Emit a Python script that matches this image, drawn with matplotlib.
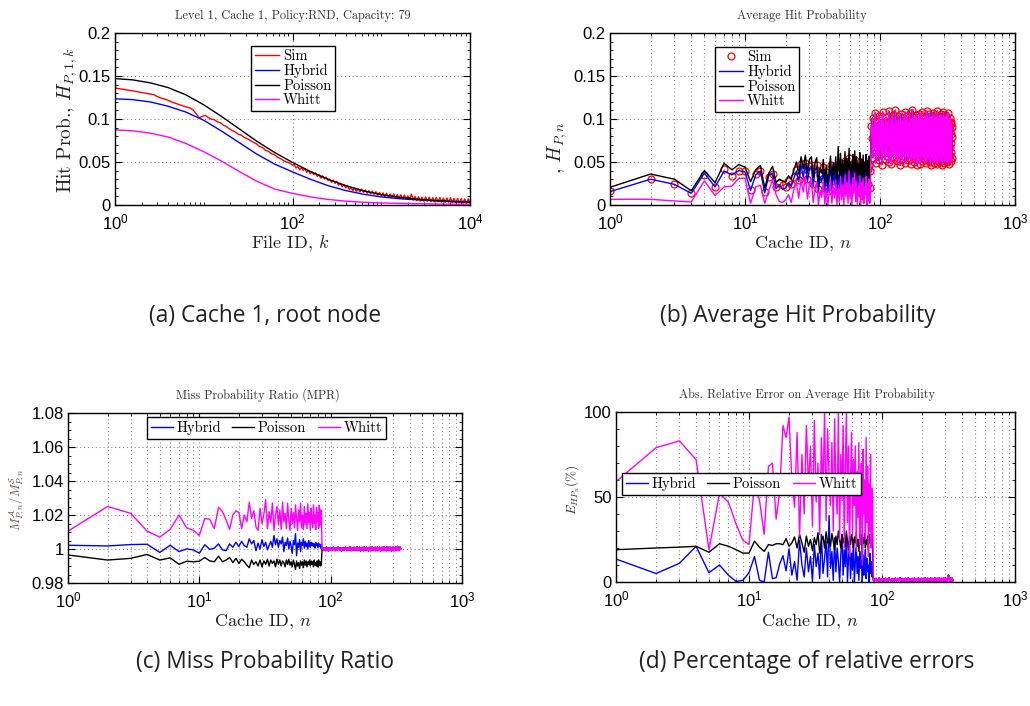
import numpy as np
import matplotlib
matplotlib.use("Agg")
import matplotlib.pyplot as plt
from matplotlib.ticker import FixedLocator, FuncFormatter, MultipleLocator, NullFormatter

plt.rcParams['font.family'] = ['Liberation Sans', 'DejaVu Sans']
plt.rcParams['mathtext.fontset'] = 'cm'
plt.rcParams['axes.unicode_minus'] = False

# ---------------- data ----------------
# (a) hit probability per file, cache 1
file_id_grid = [1, 1.585, 2.512, 3.981, 6.31, 10, 15.85, 25.12, 39.81, 63.1, 100,
                158.5, 251.2, 398.1, 631, 1000, 1585, 2512, 3981, 6310, 10000]
a_hybrid = [0.1235, 0.1225, 0.1198, 0.1148, 0.1080, 0.0985, 0.0860, 0.0725, 0.0590, 0.0475, 0.0385,
            0.0300, 0.0225, 0.0168, 0.0125, 0.0094, 0.0074, 0.0060, 0.0049, 0.0041, 0.0035]
a_poisson = [0.1470, 0.1455, 0.1420, 0.1365, 0.1280, 0.1165, 0.1030, 0.0885, 0.0740, 0.0610, 0.0495,
             0.0390, 0.0300, 0.0225, 0.0165, 0.0120, 0.0090, 0.0068, 0.0052, 0.0040, 0.0031]
a_whitt = [0.0875, 0.0862, 0.0835, 0.0790, 0.0715, 0.0620, 0.0510, 0.0390, 0.0275, 0.0185, 0.0135,
           0.0095, 0.0065, 0.0045, 0.0032, 0.0024, 0.0019, 0.0015, 0.0012, 0.0010, 0.0009]
# simulated curve, sampled log-uniformly: files 1..100 (60 samples), 100..10^4 (100 samples)
a_sim_head = [0.1360, 0.1355, 0.1350, 0.1344, 0.1338, 0.1332, 0.1326, 0.1320, 0.1314, 0.1308,
              0.1302, 0.1295, 0.1288, 0.1282, 0.1262, 0.1248, 0.1236, 0.1226, 0.1212, 0.1196,
              0.1183, 0.1172, 0.1160, 0.1148, 0.1136, 0.1128, 0.1104, 0.1060, 0.1012, 0.1030,
              0.1042, 0.1018, 0.0998, 0.0992, 0.0968, 0.0958, 0.0930, 0.0912, 0.0886, 0.0866,
              0.0848, 0.0822, 0.0812, 0.0786, 0.0770, 0.0750, 0.0728, 0.0712, 0.0680, 0.0670,
              0.0636, 0.0624, 0.0596, 0.0586, 0.0556, 0.0540, 0.0516, 0.0500, 0.0490, 0.0464]
a_sim_tail = [0.0468, 0.0430, 0.0446, 0.0410, 0.0434, 0.0404, 0.0423, 0.0381, 0.0397, 0.0363,
              0.0387, 0.0354, 0.0374, 0.0332, 0.0352, 0.0312, 0.0339, 0.0303, 0.0324, 0.0283,
              0.0302, 0.0263, 0.0288, 0.0252, 0.0275, 0.0231, 0.0253, 0.0212, 0.0238, 0.0201,
              0.0223, 0.0181, 0.0203, 0.0167, 0.0197, 0.0158, 0.0187, 0.0153, 0.0184, 0.0147,
              0.0175, 0.0136, 0.0167, 0.0130, 0.0162, 0.0124, 0.0154, 0.0113, 0.0146, 0.0107,
              0.0141, 0.0096, 0.0137, 0.0090, 0.0130, 0.0086, 0.0130, 0.0082, 0.0121, 0.0075,
              0.0118, 0.0072, 0.0115, 0.0066, 0.0106, 0.0062, 0.0126, 0.0058, 0.0099, 0.0051,
              0.0096, 0.0045, 0.0092, 0.0044, 0.0094, 0.0044, 0.0091, 0.0038, 0.0087, 0.0038,
              0.0088, 0.0037, 0.0087, 0.0034, 0.0081, 0.0031, 0.0081, 0.0031, 0.0084, 0.0028,
              0.0076, 0.0025, 0.0075, 0.0026, 0.0074, 0.0023, 0.0071, 0.0020, 0.0071, 0.0025]

# (b) average hit probability per cache: caches 1..85 (inner), 86..341 (leaves)
b_sim = [0.0166, 0.0306, 0.0248, 0.0136, 0.0350, 0.0210, 0.0415, 0.0340, 0.0395, 0.0390,
         0.0180, 0.0360, 0.0390, 0.0150, 0.0330, 0.0365, 0.0210, 0.0260, 0.0230, 0.0215,
         0.0280, 0.0240, 0.0330, 0.0410, 0.0290, 0.0480, 0.0350, 0.0490, 0.0300, 0.0450,
         0.0470, 0.0250, 0.0420, 0.0460, 0.0190, 0.0350, 0.0300, 0.0440, 0.0200, 0.0380,
         0.0160, 0.0330, 0.0470, 0.0210, 0.0400, 0.0280, 0.0450, 0.0170, 0.0380, 0.0230,
         0.0490, 0.0260, 0.0420, 0.0180, 0.0510, 0.0300, 0.0440, 0.0220, 0.0550, 0.0270,
         0.0400, 0.0190, 0.0480, 0.0330, 0.0520, 0.0240, 0.0450, 0.0200, 0.0380, 0.0290,
         0.0500, 0.0170, 0.0430, 0.0260, 0.0470, 0.0210, 0.0390, 0.0310, 0.0480, 0.0180,
         0.0420, 0.0250, 0.0460, 0.0200, 0.0400]
b_hybrid = [0.0155, 0.0300, 0.0240, 0.0136, 0.0370, 0.0210, 0.0395, 0.0350, 0.0400, 0.0385,
            0.0170, 0.0350, 0.0395, 0.0140, 0.0345, 0.0370, 0.0190, 0.0235, 0.0180, 0.0200,
            0.0260, 0.0215, 0.0310, 0.0395, 0.0270, 0.0470, 0.0320, 0.0480, 0.0270, 0.0420,
            0.0455, 0.0215, 0.0400, 0.0440, 0.0160, 0.0330, 0.0270, 0.0420, 0.0170, 0.0360,
            0.0140, 0.0300, 0.0450, 0.0180, 0.0380, 0.0250, 0.0430, 0.0140, 0.0350, 0.0200,
            0.0470, 0.0230, 0.0400, 0.0150, 0.0490, 0.0270, 0.0420, 0.0190, 0.0520, 0.0240,
            0.0380, 0.0160, 0.0460, 0.0300, 0.0500, 0.0210, 0.0430, 0.0170, 0.0360, 0.0260,
            0.0480, 0.0140, 0.0410, 0.0230, 0.0450, 0.0180, 0.0370, 0.0280, 0.0460, 0.0150,
            0.0400, 0.0220, 0.0440, 0.0170, 0.0380]
b_poisson = [0.0206, 0.0360, 0.0300, 0.0166, 0.0400, 0.0260, 0.0485, 0.0410, 0.0470, 0.0440,
             0.0270, 0.0410, 0.0460, 0.0200, 0.0370, 0.0450, 0.0260, 0.0300, 0.0280, 0.0270,
             0.0340, 0.0300, 0.0400, 0.0500, 0.0360, 0.0560, 0.0420, 0.0580, 0.0370, 0.0530,
             0.0560, 0.0320, 0.0500, 0.0550, 0.0250, 0.0430, 0.0370, 0.0530, 0.0270, 0.0460,
             0.0230, 0.0410, 0.0570, 0.0280, 0.0490, 0.0350, 0.0560, 0.0240, 0.0680, 0.0300,
             0.0600, 0.0330, 0.0520, 0.0250, 0.0620, 0.0380, 0.0540, 0.0290, 0.0660, 0.0340,
             0.0500, 0.0260, 0.0590, 0.0410, 0.0630, 0.0310, 0.0560, 0.0270, 0.0480, 0.0370,
             0.0610, 0.0240, 0.0530, 0.0330, 0.0580, 0.0280, 0.0490, 0.0390, 0.0590, 0.0250,
             0.0520, 0.0320, 0.0570, 0.0270, 0.0500]
b_whitt = [0.0066, 0.0066, 0.0047, 0.0035, 0.0280, 0.0110, 0.0210, 0.0220, 0.0310, 0.0310,
           0.0020, 0.0210, 0.0230, 0.0020, 0.0170, 0.0290, 0.0120, 0.0040, 0.0030, 0.0060,
           0.0120, 0.0030, 0.0180, 0.0260, 0.0080, 0.0300, 0.0150, 0.0320, 0.0070, 0.0250,
           0.0280, 0.0030, 0.0200, 0.0270, 0.0000, 0.0170, 0.0090, 0.0260, 0.0010, 0.0190,
           0.0000, 0.0130, 0.0300, 0.0020, 0.0220, 0.0080, 0.0290, 0.0000, 0.0190, 0.0040,
           0.0330, 0.0060, 0.0240, 0.0000, 0.0350, 0.0100, 0.0260, 0.0020, 0.0400, 0.0070,
           0.0220, 0.0000, 0.0320, 0.0140, 0.0370, 0.0040, 0.0280, 0.0010, 0.0200, 0.0100,
           0.0340, 0.0000, 0.0260, 0.0060, 0.0310, 0.0020, 0.0210, 0.0110, 0.0330, 0.0000,
           0.0250, 0.0050, 0.0300, 0.0020, 0.0230]
# leaves: all four curves coincide
b_leaf = [0.092, 0.078, 0.101, 0.055, 0.088, 0.064, 0.107, 0.049, 0.083, 0.096, 0.058, 0.071, 0.104, 0.052, 0.090, 0.067,
          0.099, 0.047, 0.081, 0.108, 0.060, 0.075, 0.094, 0.053, 0.086, 0.102, 0.063, 0.057, 0.097, 0.070, 0.109, 0.050,
          0.084, 0.066, 0.100, 0.048, 0.091, 0.073, 0.105, 0.056, 0.079, 0.095, 0.061, 0.087, 0.110, 0.054, 0.069, 0.098,
          0.051, 0.089, 0.076, 0.103, 0.059, 0.093, 0.046, 0.082, 0.106, 0.065, 0.072, 0.097, 0.053, 0.088, 0.062, 0.101,
          0.057, 0.094, 0.068, 0.108, 0.049, 0.085, 0.099, 0.060, 0.077, 0.104, 0.052, 0.090, 0.071, 0.096, 0.055, 0.083,
          0.107, 0.063, 0.092, 0.048, 0.080, 0.100, 0.058, 0.074, 0.111, 0.054, 0.087, 0.066, 0.098, 0.050, 0.091, 0.078,
          0.102, 0.056, 0.086, 0.069, 0.105, 0.047, 0.093, 0.061, 0.081, 0.099, 0.053, 0.089, 0.072, 0.106, 0.059, 0.084,
          0.048, 0.097, 0.075, 0.103, 0.057, 0.090, 0.064, 0.108, 0.051, 0.082, 0.095, 0.060, 0.078, 0.100, 0.055, 0.087,
          0.070, 0.104, 0.052, 0.091, 0.066, 0.098, 0.049, 0.085, 0.109, 0.062, 0.076, 0.094, 0.054, 0.088, 0.073, 0.101,
          0.058, 0.083, 0.106, 0.050, 0.092, 0.068, 0.097, 0.047, 0.080, 0.103, 0.063, 0.089, 0.055, 0.096, 0.071, 0.107,
          0.053, 0.086, 0.074, 0.100, 0.060, 0.093, 0.049, 0.082, 0.105, 0.057, 0.090, 0.067, 0.098, 0.052, 0.079, 0.102,
          0.061, 0.095, 0.048, 0.087, 0.109, 0.056, 0.077, 0.099, 0.064, 0.084, 0.050, 0.092, 0.070, 0.104, 0.058, 0.088,
          0.097, 0.054, 0.081, 0.066, 0.106, 0.051, 0.090, 0.073, 0.101, 0.059, 0.085, 0.047, 0.094, 0.068, 0.100, 0.062,
          0.083, 0.108, 0.055, 0.091, 0.072, 0.098, 0.049, 0.087, 0.064, 0.103, 0.057, 0.080, 0.095, 0.052, 0.089, 0.076,
          0.104, 0.060, 0.086, 0.050, 0.093, 0.069, 0.099, 0.056, 0.082, 0.107, 0.063, 0.078, 0.096, 0.048, 0.090, 0.074,
          0.092, 0.053, 0.085, 0.067, 0.101, 0.058, 0.088, 0.072, 0.097, 0.051, 0.083, 0.062, 0.094, 0.055, 0.079, 0.091]

# (c) miss probability ratio
c_hybrid = [1.0022, 1.0018, 1.0026, 1.0028, 0.9980, 1.0022, 0.9985, 1.0000, 0.9995, 0.9975,
            1.0025, 0.9998, 1.0005, 1.0030, 0.9995, 0.9990, 1.0030, 1.0010, 1.0040, 1.0015,
            1.0045, 1.0020, 1.0010, 1.0060, 1.0030, 1.0050, 0.9990, 1.0035, 1.0000, 1.0055,
            1.0015, 1.0040, 0.9995, 1.0020, 1.0045, 1.0010, 1.0080, 1.0025, 1.0060, 1.0010,
            1.0050, 1.0030, 1.0070, 0.9985, 1.0040, 1.0020, 1.0065, 1.0000, 1.0045, 1.0015,
            0.9975, 1.0050, 1.0025, 1.0090, 0.9960, 1.0035, 1.0010, 1.0055, 0.9985, 1.0040,
            1.0020, 1.0060, 1.0005, 1.0045, 1.0015, 1.0035, 1.0000, 1.0050, 1.0025, 1.0010,
            1.0040, 1.0020, 1.0035, 1.0015, 1.0030, 1.0005, 1.0040, 1.0020, 1.0030, 1.0010,
            1.0035, 1.0015, 1.0025, 1.0005, 1.0030]
c_poisson = [0.9965, 0.9935, 0.9945, 0.9968, 0.9935, 0.9948, 0.9910, 0.9928, 0.9925, 0.9928,
             0.9950, 0.9930, 0.9925, 0.9958, 0.9925, 0.9935, 0.9950, 0.9920, 0.9945, 0.9915,
             0.9940, 0.9925, 0.9905, 0.9890, 0.9935, 0.9910, 0.9925, 0.9900, 0.9935, 0.9895,
             0.9930, 0.9910, 0.9940, 0.9900, 0.9935, 0.9915, 0.9930, 0.9895, 0.9940, 0.9910,
             0.9935, 0.9900, 0.9930, 0.9920, 0.9895, 0.9935, 0.9910, 0.9940, 0.9905, 0.9925,
             0.9895, 0.9935, 0.9910, 0.9880, 0.9930, 0.9900, 0.9920, 0.9885, 0.9930, 0.9905,
             0.9925, 0.9890, 0.9935, 0.9905, 0.9930, 0.9895, 0.9925, 0.9910, 0.9935, 0.9900,
             0.9930, 0.9910, 0.9925, 0.9895, 0.9935, 0.9905, 0.9920, 0.9900, 0.9930, 0.9895,
             0.9935, 0.9905, 0.9925, 0.9900, 0.9920]
c_whitt = [1.0105, 1.0250, 1.0210, 1.0105, 1.0070, 1.0115, 1.0200, 1.0125, 1.0110, 1.0080,
           1.0180, 1.0175, 1.0120, 1.0245, 1.0220, 1.0170, 1.0115, 1.0200, 1.0225, 1.0215,
           1.0120, 1.0200, 1.0160, 1.0275, 1.0180, 1.0225, 1.0130, 1.0110, 1.0240, 1.0150,
           1.0205, 1.0290, 1.0120, 1.0220, 1.0155, 1.0270, 1.0110, 1.0200, 1.0250, 1.0140,
           1.0230, 1.0115, 1.0275, 1.0160, 1.0210, 1.0120, 1.0270, 1.0170, 1.0110, 1.0240,
           1.0150, 1.0215, 1.0125, 1.0260, 1.0180, 1.0110, 1.0230, 1.0160, 1.0270, 1.0125,
           1.0200, 1.0115, 1.0250, 1.0145, 1.0210, 1.0120, 1.0265, 1.0155, 1.0215, 1.0110,
           1.0240, 1.0170, 1.0125, 1.0260, 1.0150, 1.0200, 1.0115, 1.0245, 1.0160, 1.0215,
           1.0120, 1.0255, 1.0140, 1.0230, 1.0220]
c_leaf = [1.0003, 0.9996, 1.0008, 0.9991, 1.0005, 1.0000, 0.9994, 1.0011, 0.9998, 1.0004, 0.9989, 1.0007, 1.0001, 0.9995, 1.0009, 0.9997,
          1.0002, 0.9993, 1.0006, 1.0010, 0.9996, 1.0003, 0.9990, 1.0008, 0.9999, 1.0005, 0.9994, 1.0001, 1.0012, 0.9997, 1.0004, 0.9992,
          1.0007, 0.9998, 1.0002, 0.9988, 1.0006, 1.0003, 0.9995, 1.0009, 1.0000, 0.9993, 1.0005, 0.9997, 1.0011, 0.9999, 1.0004, 0.9991,
          1.0006, 1.0001, 0.9996, 1.0008, 0.9994, 1.0003, 1.0013, 0.9998, 1.0002, 0.9990, 1.0007, 0.9996, 1.0004, 1.0000, 0.9993, 1.0009,
          0.9997, 1.0005, 0.9992, 1.0010, 1.0001, 0.9995, 1.0006, 0.9998, 1.0014, 0.9991, 1.0003, 0.9996, 1.0008, 1.0000, 0.9994, 1.0005,
          1.0011, 0.9997, 1.0002, 0.9989, 1.0007, 0.9999, 1.0004, 0.9993, 1.0009, 1.0001, 0.9995, 1.0006, 0.9990, 1.0003, 1.0012, 0.9998,
          1.0004, 0.9994, 1.0008, 0.9997, 1.0001, 1.0010, 0.9992, 1.0005, 0.9999, 1.0007, 0.9995, 1.0003, 0.9988, 1.0009, 1.0000, 0.9996,
          1.0006, 0.9993, 1.0011, 0.9998, 1.0003, 0.9991, 1.0007, 1.0001, 0.9996, 1.0013, 0.9994, 1.0004, 0.9999, 1.0008, 0.9992, 1.0002,
          0.9997, 1.0009, 0.9995, 1.0005, 1.0000, 0.9990, 1.0010, 0.9998, 1.0004, 0.9993, 1.0007, 1.0001, 0.9996, 1.0012, 0.9994, 1.0003,
          1.0008, 0.9999, 0.9992, 1.0006, 1.0002, 0.9995, 1.0011, 0.9997, 1.0004, 0.9989, 1.0007, 1.0000, 0.9994, 1.0009, 0.9998, 1.0003,
          0.9996, 1.0010, 0.9993, 1.0005, 1.0001, 0.9997, 1.0008, 0.9991, 1.0004, 1.0014, 0.9995, 1.0002, 0.9999, 1.0007, 0.9992, 1.0006,
          1.0000, 0.9994, 1.0009, 0.9997, 1.0003, 0.9990, 1.0012, 0.9998, 1.0005, 0.9993, 1.0007, 1.0001, 0.9996, 1.0010, 0.9995, 1.0004,
          0.9999, 1.0008, 0.9992, 1.0003, 1.0011, 0.9996, 1.0005, 0.9994, 1.0009, 1.0000, 0.9997, 1.0006, 0.9989, 1.0004, 1.0002, 0.9995,
          1.0010, 0.9998, 1.0003, 0.9993, 1.0007, 1.0001, 0.9996, 1.0013, 0.9994, 1.0005, 0.9999, 1.0008, 0.9991, 1.0004, 1.0000, 0.9997,
          1.0006, 0.9995, 1.0011, 0.9998, 1.0002, 0.9992, 1.0009, 1.0001, 0.9996, 1.0007, 0.9993, 1.0005, 1.0015, 0.9997, 1.0003, 0.9994,
          1.0008, 1.0000, 0.9996, 1.0010, 0.9993, 1.0004, 0.9998, 1.0007, 0.9995, 1.0002, 1.0012, 0.9997, 1.0005, 0.9999, 1.0003, 1.0001]

# (d) absolute relative error (%)
d_hybrid = [13.5, 5.0, 11.0, 21.0, 5.5, 10.0, 4.0, 0.3, 1.0, 5.5,
            15.0, 1.0, 0.0, 17.5, 2.0, 2.5, 10.5, 15.5, 6.5, 19.5,
            4.0, 12.0, 1.0, 24.5, 10.0, 3.0, 20.0, 6.0, 15.0, 0.5,
            22.0, 9.0, 17.0, 2.0, 28.0, 5.0, 14.0, 24.0, 3.0, 39.0,
            8.0, 18.0, 1.0, 26.0, 6.0, 20.0, 12.0, 0.0, 16.0, 28.0,
            4.0, 19.0, 9.0, 30.0, 0.0, 14.0, 22.0, 2.0, 17.0, 7.0,
            25.0, 0.0, 12.0, 20.0, 5.0, 15.0, 1.0, 18.0, 8.0, 13.0,
            0.0, 16.0, 4.0, 11.0, 19.0, 2.0, 14.0, 6.0, 10.0, 0.0,
            17.0, 5.0, 12.0, 3.0, 9.0]
d_poisson = [19.0, 20.0, 20.5, 21.0, 17.5, 22.5, 21.0, 19.0, 17.0, 17.0,
             24.0, 20.5, 18.0, 22.0, 21.5, 22.5, 22.5, 22.0, 25.5, 21.0,
             23.0, 26.5, 20.0, 28.0, 23.0, 17.5, 27.0, 21.0, 25.0, 18.5,
             26.0, 22.0, 29.0, 17.0, 24.0, 27.0, 20.0, 29.5, 23.0, 26.0,
             21.0, 28.5, 24.0, 19.0, 27.0, 22.0, 30.0, 25.0, 20.0, 28.0,
             23.0, 26.0, 21.0, 29.0, 24.0, 19.0, 27.0, 22.0, 28.0, 25.0,
             20.0, 26.5, 23.0, 29.0, 21.0, 25.0, 18.0, 27.0, 22.0, 28.0,
             14.0, 26.0, 23.0, 28.5, 20.0, 25.0, 22.0, 27.0, 19.0, 28.0,
             23.0, 26.0, 21.0, 29.0, 18.0]
d_whitt = [59.0, 79.0, 83.0, 72.0, 19.0, 52.0, 47.0, 34.0, 24.5, 22.0,
           58.0, 48.0, 28.0, 68.0, 70.0, 37.0, 53.0, 92.0, 85.0, 97.0,
           60.0, 44.0, 88.0, 27.0, 75.0, 40.0, 92.0, 56.0, 80.0, 33.0,
           95.0, 47.0, 70.0, 28.0, 85.0, 52.0, 100.0, 36.0, 90.0, 62.0,
           45.0, 82.0, 30.0, 96.0, 55.0, 40.0, 100.0, 25.0, 75.0, 48.0,
           92.0, 20.0, 68.0, 100.0, 35.0, 80.0, 15.0, 60.0, 88.0, 28.0,
           72.0, 45.0, 80.0, 18.0, 65.0, 38.0, 82.0, 22.0, 55.0, 70.0,
           10.0, 78.0, 40.0, 60.0, 25.0, 85.0, 35.0, 68.0, 15.0, 58.0,
           30.0, 75.0, 20.0, 55.0, 50.0]
d_leaf = [1.2, 0.6, 1.8, 0.9, 2.1, 0.4, 1.5, 1.1, 0.7, 2.4, 1.0, 0.5, 1.7, 1.3, 0.8, 2.0,
          0.9, 1.6, 0.3, 1.2, 2.2, 0.8, 1.4, 0.6, 1.9, 1.1, 0.5, 2.5, 1.0, 1.5, 0.7, 1.3,
          1.8, 0.4, 1.1, 2.0, 0.9, 1.6, 0.6, 1.3, 2.3, 0.8, 1.2, 0.5, 1.7, 1.0, 2.1, 0.7,
          1.4, 0.9, 2.6, 1.1, 0.5, 1.8, 1.2, 0.8, 1.5, 0.4, 2.0, 1.3, 0.9, 1.7, 0.6, 1.1,
          2.2, 0.8, 1.4, 1.0, 0.6, 1.9, 1.2, 2.4, 0.7, 1.3, 0.9, 1.6, 0.5, 2.0, 1.1, 0.8,
          1.5, 0.6, 1.2, 2.1, 0.9, 1.4, 0.4, 1.8, 1.0, 2.3, 0.7, 1.3, 1.1, 0.5, 1.7, 0.9,
          1.3, 2.0, 0.8, 1.5, 0.6, 1.1, 2.5, 0.9, 1.4, 0.7, 1.9, 1.0, 0.5, 1.6, 1.2, 2.2,
          0.8, 1.4, 1.0, 0.6, 1.8, 1.2, 0.9, 2.1, 0.5, 1.5, 1.1, 0.7, 1.7, 2.4, 0.9, 1.3,
          1.0, 0.6, 1.9, 1.3, 0.8, 1.5, 2.2, 0.7, 1.1, 0.5, 1.6, 1.0, 2.0, 0.8, 1.4, 0.6,
          1.7, 1.1, 0.7, 2.3, 0.9, 1.2, 0.5, 1.8, 1.4, 0.8, 2.1, 1.0, 0.6, 1.5, 1.2, 0.9,
          2.0, 0.7, 1.3, 1.0, 2.6, 0.8, 1.5, 0.6, 1.1, 1.9, 0.9, 1.4, 0.5, 2.2, 1.0, 1.6,
          0.8, 1.2, 2.0, 0.6, 1.5, 1.1, 0.9, 2.4, 0.7, 1.3, 1.0, 1.8, 0.5, 1.4, 2.1, 0.9,
          1.1, 1.6, 0.6, 1.3, 2.2, 0.9, 1.5, 0.7, 1.9, 1.0, 0.5, 1.7, 1.2, 2.5, 0.8, 1.4,
          0.9, 2.0, 1.2, 0.6, 1.6, 1.0, 2.3, 0.8, 1.4, 0.7, 1.8, 1.1, 0.5, 2.1, 1.3, 0.9,
          1.5, 0.8, 2.7, 1.2, 3.4, 1.9, 4.1, 2.2, 1.0, 1.6, 0.7, 1.3, 2.0, 0.9, 1.5, 1.1,
          0.6, 1.8, 1.0, 2.4, 0.8, 1.4, 0.5, 1.9, 1.2, 0.7, 1.6, 1.0, 2.2, 0.9, 1.3, 0.8]

legend_ab = ['Sim', 'Hybrid', 'Poisson', 'Whitt']
legend_cd = ['Hybrid', 'Poisson', 'Whitt']

# ---------------- figure ----------------
W, H = 1030, 706
fig = plt.figure(figsize=(W / 100, H / 100), dpi=100)
fig.patch.set_facecolor('white')

def add_ax(l, t, r, b):
    return fig.add_axes([l / W, 1 - b / H, (r - l) / W, (b - t) / H])

def ftext(x, y, s, **kw):
    return fig.text(x / W, 1 - y / H, s, **kw)

RED, BLUE, BLACK, MAG = '#ff0000', '#0000ff', '#000000', '#ff00ff'
LW = 1.0
SERIF = 'cmr10'
GRID = dict(ls=(0, (1, 2.5)), lw=0.8, color='#8a8a8a')

def style_axes(ax, xlim, xmajor, ylim, ystep, yminor, minor_xgrid):
    ax.set_xscale('log')
    ax.set_xlim(*xlim)
    ax.set_ylim(*ylim)
    ax.xaxis.set_major_locator(FixedLocator(xmajor))
    minors = [m * 10.0 ** e for e in range(0, 5) for m in range(1, 10)
              if (m * 10.0 ** e) not in xmajor and xlim[0] < m * 10.0 ** e < xlim[1]]
    ax.xaxis.set_minor_locator(FixedLocator(minors))
    ax.xaxis.set_minor_formatter(NullFormatter())
    ax.xaxis.set_major_formatter(FuncFormatter(
        lambda v, p: r'$\mathdefault{10^{%d}}$' % int(round(np.log10(v)))))
    ax.yaxis.set_major_locator(MultipleLocator(ystep))
    ax.yaxis.set_minor_locator(MultipleLocator(yminor))
    ax.yaxis.set_major_formatter(FuncFormatter(lambda v, p: '%g' % round(v, 6)))
    ax.tick_params(which='both', direction='in', top=True, right=True,
                   labelsize=12, colors='black')
    ax.tick_params(which='major', length=5, width=0.8)
    ax.tick_params(axis='x', which='major', pad=5.5)
    ax.tick_params(axis='y', which='major', pad=3)
    ax.tick_params(which='minor', length=2.5, width=0.6)
    ax.grid(True, which='major', **GRID)
    if minor_xgrid:
        ax.grid(True, which='minor', axis='x', **GRID)
    for s in ax.spines.values():
        s.set_linewidth(1.0)
        s.set_color('black')

def legend(ax, handles, labels, anchor, ncol=1):
    horiz = ncol > 1
    lg = ax.legend(handles, labels, loc='upper left', bbox_to_anchor=anchor,
                   ncol=ncol, frameon=True, fancybox=False, framealpha=1,
                   edgecolor='black', borderaxespad=0, borderpad=0.25,
                   labelspacing=0.05, handlelength=1.5 if horiz else 1.7,
                   handletextpad=0.25, columnspacing=0.8,
                   prop={'family': SERIF, 'size': 10.5})
    lg.get_frame().set_linewidth(1.0)
    return lg

# ---- (a)
ax = add_ax(115, 33, 470, 205)
k_head = np.geomspace(1, 100, len(a_sim_head))
k_tail = np.geomspace(100, 1e4, len(a_sim_tail) + 1)[1:]
k_sim = np.concatenate([k_head, k_tail])
sim_a = np.concatenate([a_sim_head, a_sim_tail])
h1, = ax.plot(k_sim, sim_a, color=RED, lw=LW)
h2, = ax.plot(file_id_grid, a_hybrid, color=BLUE, lw=LW)
h3, = ax.plot(file_id_grid, a_poisson, color=BLACK, lw=LW)
h4, = ax.plot(file_id_grid, a_whitt, color=MAG, lw=LW)
style_axes(ax, (1, 1e4), [1, 100, 10000], (0, 0.2), 0.05, 0.01, False)
legend(ax, [h1, h2, h3, h4], legend_ab, ((251 - 115) / 355, (205 - 46) / 172))

# ---- (b)
ax = add_ax(610, 33, 1015, 205)
n_inner = np.arange(1, len(b_sim) + 1)
n_leaf = np.arange(len(b_sim) + 1, len(b_sim) + len(b_leaf) + 1)
n_all = np.concatenate([n_inner, n_leaf])
h1, = ax.plot(n_all, np.concatenate([b_sim, b_leaf]), ls='none', marker='o', ms=5,
              mfc='none', mec=RED, mew=0.9)
h2, = ax.plot(n_all, np.concatenate([b_hybrid, b_leaf]), color=BLUE, lw=LW)
h3, = ax.plot(n_all, np.concatenate([b_poisson, b_leaf]), color=BLACK, lw=LW)
h4, = ax.plot(n_all, np.concatenate([b_whitt, b_leaf]), color=MAG, lw=LW)
style_axes(ax, (1, 1000), [1, 10, 100, 1000], (0, 0.2), 0.05, 0.01, True)
legend(ax, [h1, h2, h3, h4], legend_ab, ((715 - 610) / 405, (205 - 47) / 172))

# ---- (c)
ax = add_ax(68, 413, 462, 583)
h2, = ax.plot(n_all, np.concatenate([c_hybrid, c_leaf]), color=BLUE, lw=LW)
h3, = ax.plot(n_all, np.concatenate([c_poisson, c_leaf]), color=BLACK, lw=LW)
h4, = ax.plot(n_all, np.concatenate([c_whitt, c_leaf]), color=MAG, lw=LW)
style_axes(ax, (1, 1000), [1, 10, 100, 1000], (0.98, 1.08), 0.02, 0.005, True)
legend(ax, [h2, h3, h4], legend_cd, ((147 - 68) / 394, (583 - 417) / 170), ncol=3)

# ---- (d)
ax = add_ax(616, 412, 1015, 582)
h2, = ax.plot(n_all, np.concatenate([d_hybrid, d_leaf]), color=BLUE, lw=LW)
h3, = ax.plot(n_all, np.concatenate([d_poisson, d_leaf]), color=BLACK, lw=LW)
h4, = ax.plot(n_all, np.concatenate([d_whitt, d_leaf]), color=MAG, lw=LW)
style_axes(ax, (1, 1000), [1, 10, 100, 1000], (0, 100), 50, 10, True)
legend(ax, [h2, h3, h4], legend_cd, ((622 - 616) / 399, (582 - 473) / 170), ncol=3)

# ---- titles, axis labels, captions
tkw = dict(family=SERIF, size=8.8, ha='center', va='center', color='#333333')
ftext(293, 16, 'Level 1, Cache 1, Policy:RND, Capacity: 79', **tkw)
ftext(802, 16, 'Average Hit Probability', **tkw)
ftext(258, 395, 'Miss Probability Ratio (MPR)', **tkw)
ftext(807, 395, 'Abs. Relative Error on Average Hit Probability', **tkw)

lkw = dict(family=SERIF, size=13, ha='center', va='center', color='#222222')
ftext(290, 243, r'File ID, $k$', **lkw)
ftext(803, 243, r'Cache ID, $n$', **lkw)
ftext(263, 621, r'Cache ID, $n$', **lkw)
ftext(810, 621, r'Cache ID, $n$', **lkw)
ftext(67, 120, r'Hit Prob., $H_{P,1,k}$', rotation=90,
      **dict(lkw, size=14))
ftext(557, 148, r', $H_{P,n}$', rotation=90, **dict(lkw, size=14))
ftext(18, 500, r'$M^{\mathcal{A}}_{P,n}/M^{\mathcal{S}}_{P,n}$', rotation=90,
      family=SERIF, size=9, ha='center', va='center', color='#6b4b4b')
ftext(573, 490, r'$E_{HP_n}(\%)$', rotation=90,
      family=SERIF, size=9.5, ha='center', va='center', color='#333333')

ckw = dict(family=['Open Sans', 'DejaVu Sans'], size=16.4, ha='center', va='center', color='#222222')
ftext(265, 316, '(a) Cache 1, root node', **ckw)
ftext(798, 316, '(b) Average Hit Probability', **ckw)
ftext(265, 662, '(c) Miss Probability Ratio', **ckw)
ftext(807, 662, '(d) Percentage of relative errors', **ckw)

fig.savefig('out.png', dpi=100, facecolor='white')
